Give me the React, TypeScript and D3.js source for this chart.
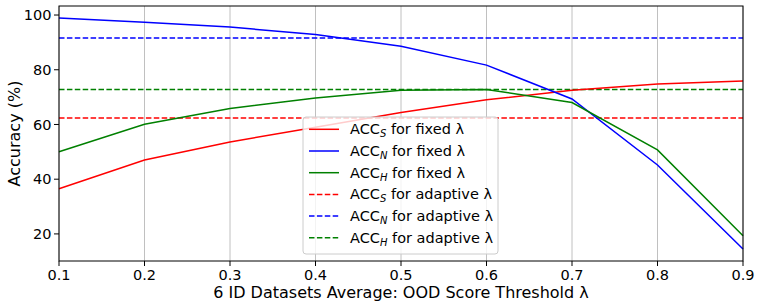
import { useMemo } from 'react';
import * as d3 from 'd3';

// thresholds on the x axis
const thresholds = [0.1, 0.2, 0.3, 0.4, 0.5, 0.6, 0.7, 0.8, 0.9];

// fixed lambda curves
const accSFixed = [36.5, 47.0, 53.6, 59.0, 64.4, 69.0, 72.5, 74.8, 75.9];
const accNFixed = [98.9, 97.4, 95.6, 92.9, 88.6, 81.7, 69.3, 45.2, 14.5];
const accHFixed = [50.0, 60.1, 65.8, 69.7, 72.5, 72.8, 68.0, 50.7, 19.3];

// adaptive lambda levels (horizontal dashed lines)
const accSAdaptive = 62.4;
const accNAdaptive = 91.6;
const accHAdaptive = 72.8;

const xTicks = [0.1, 0.2, 0.3, 0.4, 0.5, 0.6, 0.7, 0.8, 0.9];
const yTicks = [20, 40, 60, 80, 100];

const legendItems = [
  { sub: 'S', suffix: ' for fixed λ', color: 'red', dashed: false },
  { sub: 'N', suffix: ' for fixed λ', color: 'blue', dashed: false },
  { sub: 'H', suffix: ' for fixed λ', color: 'green', dashed: false },
  { sub: 'S', suffix: ' for adaptive λ', color: 'red', dashed: true },
  { sub: 'N', suffix: ' for adaptive λ', color: 'blue', dashed: true },
  { sub: 'H', suffix: ' for adaptive λ', color: 'green', dashed: true },
];

const App = () => {
  const width = 761;
  const height = 308;
  const margin = { top: 6, right: 18, bottom: 47, left: 59 };
  const innerW = width - margin.left - margin.right;
  const innerH = height - margin.top - margin.bottom;

  const x = useMemo(() => d3.scaleLinear().domain([0.1, 0.9]).range([0, innerW]), [innerW]);
  const y = useMemo(() => d3.scaleLinear().domain([10.1, 103.3]).range([innerH, 0]), [innerH]);

  const line = d3.line<number>()
    .x((_, i) => x(thresholds[i]))
    .y((d) => y(d));

  const font = 'DejaVu Sans, sans-serif';

  const fixedSeries = [
    { values: accSFixed, color: 'red' },
    { values: accNFixed, color: 'blue' },
    { values: accHFixed, color: 'green' },
  ];
  const adaptiveSeries = [
    { value: accSAdaptive, color: 'red' },
    { value: accNAdaptive, color: 'blue' },
    { value: accHAdaptive, color: 'green' },
  ];

  // legend box position
  const lg = { x: 303 - margin.left, y: 117 - margin.top, w: 195, h: 137, row: 21.7 };

  return (
    <svg width={width} height={height} style={{ position: 'absolute', left: 0, top: 0 }} fontFamily={font}>
      <rect width={width} height={height} fill="white" />
      <g transform={`translate(${margin.left},${margin.top})`}>
        {/* vertical grid */}
        {xTicks.map((t) => (
          <line key={t} x1={x(t)} x2={x(t)} y1={0} y2={innerH} stroke="#b0b0b0" strokeWidth={0.8} />
        ))}

        {/* dashed adaptive lines */}
        {adaptiveSeries.map((s) => (
          <line key={s.color} x1={0} x2={innerW} y1={y(s.value)} y2={y(s.value)}
            stroke={s.color} strokeWidth={1.5} strokeDasharray="5.5,2.4" />
        ))}

        {/* fixed curves */}
        {fixedSeries.map((s) => (
          <path key={s.color} d={line(s.values) ?? ''} fill="none" stroke={s.color} strokeWidth={1.5} />
        ))}

        {/* spines */}
        <rect x={0} y={0} width={innerW} height={innerH} fill="none" stroke="black" strokeWidth={1} />

        {/* x ticks */}
        {xTicks.map((t) => (
          <g key={t} transform={`translate(${x(t)},${innerH})`}>
            <line y2={5} stroke="black" strokeWidth={1} />
            <text y={19} textAnchor="middle" fontSize={14.5} fill="black">{t.toFixed(1)}</text>
          </g>
        ))}

        {/* y ticks */}
        {yTicks.map((t) => (
          <g key={t} transform={`translate(0,${y(t)})`}>
            <line x2={-5} stroke="black" strokeWidth={1} />
            <text x={-7.5} dy="0.35em" textAnchor="end" fontSize={14.5} fill="black">{t}</text>
          </g>
        ))}

        {/* legend */}
        <g transform={`translate(${lg.x},${lg.y})`}>
          <rect width={lg.w} height={lg.h} rx={3} fill="white" fillOpacity={0.8} stroke="#cccccc" strokeWidth={1} />
          {legendItems.map((item, i) => {
            const cy = 12.3 + i * lg.row;
            return (
              <g key={i} transform={`translate(0,${cy})`}>
                <line x1={6} x2={36} y1={0} y2={0} stroke={item.color} strokeWidth={1.5}
                  strokeDasharray={item.dashed ? '5.5,2.4' : undefined} />
                <text x={47} dy="0.35em" fontSize={14.5} fill="black">
                  ACC
                  <tspan fontSize={10} fontStyle="italic" dy={3}>{item.sub}</tspan>
                  <tspan dy={-3}>{item.suffix}</tspan>
                </text>
              </g>
            );
          })}
        </g>
      </g>

      {/* axis labels */}
      <text x={margin.left + innerW / 2} y={298} textAnchor="middle" fontSize={16} fill="black">
        6 ID Datasets Average: OOD Score Threshold λ
      </text>
      <text transform={`translate(20,${margin.top + innerH / 2}) rotate(-90)`} textAnchor="middle" fontSize={16} fill="black">
        Accuracy (%)
      </text>
    </svg>
  );
};

export default App;
